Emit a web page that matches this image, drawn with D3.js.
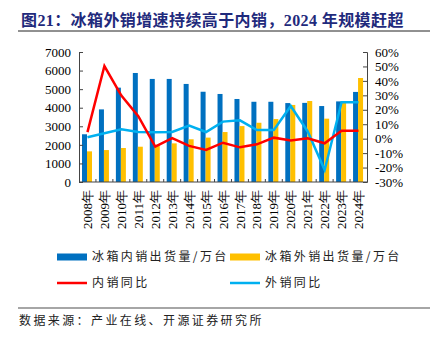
<!DOCTYPE html>
<html>
<head>
<meta charset="utf-8">
<script src="https://cdn.jsdelivr.net/npm/d3@7"></script>
<style>
  body { margin: 0; background: #fff; }
  svg { display: block; }
  .num { font-family: "Liberation Serif", "Times New Roman", serif; font-size: 13px; fill: #000; }
  .cjk { font-family: "Noto Sans CJK SC", sans-serif; }
</style>
</head>
<body>
<div id="chart"></div>
<script>
// years and series
var years = ["2008年","2009年","2010年","2011年","2012年","2013年","2014年","2015年","2016年",
             "2017年","2018年","2019年","2020年","2021年","2022年","2023年","2024年"];
var domestic = [2570, 3910, 5080, 5870, 5550, 5550, 5280, 4860, 4740, 4470, 4320, 4320, 4250, 4260, 4090, 4340, 4850];
var exportVol = [1650, 1720, 1830, 1900, 2000, 2080, 2300, 2390, 2690, 3010, 3190, 3390, 4150, 4360, 3410, 4290, 5600];
var domesticYoy = [4.5, 50.3, 29.8, 15.6, -5.5, 0.3, -5, -7.8, -2.8, -6, -3.9, 0.7, -1.2, 0.3, -3.2, 5.5, 5.5];
var exportYoy = [1, 3.7, 6.5, 4.6, 4.4, 4.6, 9, 4.6, 11.8, 12.7, 6, 6, 22.6, 5, -21.7, 25.2, 25.2];
var leftTicks = [0, 1000, 2000, 3000, 4000, 5000, 6000, 7000];
var rightTicks = [-30, -20, -10, 0, 10, 20, 30, 40, 50, 60];

var W = 443, H = 341;
var margin = {top: 52, right: 76, bottom: 159, left: 79};
var width = W - margin.left - margin.right,
    height = H - margin.top - margin.bottom;

var svg = d3.select("#chart").append("svg")
    .attr("width", W)
    .attr("height", H);

// title
svg.append("text")
    .attr("x", 21).attr("y", 26)
    .attr("fill", "#1f2a7c")
    .style("font-family", "\"Liberation Serif\", \"Noto Sans CJK SC\", serif")
    .style("font-weight", "bold")
    .style("font-size", "16px")
    .style("letter-spacing", "0.4px")
    .text("图21：冰箱外销增速持续高于内销，2024 年规模赶超");

svg.append("line")
    .attr("x1", 18).attr("x2", 430).attr("y1", 31).attr("y2", 31)
    .attr("stroke", "#222").attr("stroke-width", 1);

var g = svg.append("g")
    .attr("transform", "translate(" + margin.left + "," + margin.top + ")");

var x = d3.scaleBand().domain(years).range([0, width]);
var y = d3.scaleLinear().domain([0, 7000]).range([height, 0]);
var y2 = d3.scaleLinear().domain([-30, 60]).range([height, 0]);

var barW = 5;

// bars
g.selectAll(".bar-dom")
    .data(domestic)
    .enter().append("rect")
    .attr("class", "bar-dom")
    .attr("x", function(d, i) { return x(years[i]) + 3; })
    .attr("width", barW)
    .attr("y", function(d) { return y(d); })
    .attr("height", function(d) { return height - y(d); })
    .style("fill", "#0070c0");

g.selectAll(".bar-exp")
    .data(exportVol)
    .enter().append("rect")
    .attr("class", "bar-exp")
    .attr("x", function(d, i) { return x(years[i]) + 3 + barW; })
    .attr("width", barW)
    .attr("y", function(d) { return y(d); })
    .attr("height", function(d) { return height - y(d); })
    .style("fill", "#ffc000");

// yoy lines
var line = d3.line()
    .x(function(d, i) { return x(years[i]) + x.bandwidth() / 2; })
    .y(function(d) { return y2(d); });

g.append("path")
    .datum(exportYoy)
    .attr("d", line)
    .attr("fill", "none")
    .attr("stroke", "#00b0f0")
    .attr("stroke-width", 2.5);

g.append("path")
    .datum(domesticYoy)
    .attr("d", line)
    .attr("fill", "none")
    .attr("stroke", "#ff0000")
    .attr("stroke-width", 2.5);

// axes
var yAxis = d3.axisLeft(y).tickValues(leftTicks).tickFormat(d3.format("d"))
    .tickSize(-4).tickPadding(8);
var y2Axis = d3.axisRight(y2).tickValues(rightTicks)
    .tickFormat(function(d) { return d + "%"; }).tickSize(-4).tickPadding(8);

var ya = g.append("g").attr("class", "y-axis").call(yAxis);
var y2a = g.append("g").attr("class", "y2-axis")
    .attr("transform", "translate(" + width + ",0)").call(y2Axis);

[ya, y2a].forEach(function(a) {
    a.select(".domain").attr("stroke", "#444");
    a.selectAll(".tick line").attr("stroke", "#444");
    a.selectAll(".tick text").attr("class", "num").attr("fill", "#000").style("font-size", null);
    a.attr("font-size", null).attr("font-family", null);
});

// x axis: baseline, boundary ticks, rotated labels
var xa = g.append("g").attr("transform", "translate(0," + height + ")");
xa.append("line")
    .attr("x1", 0).attr("x2", width)
    .attr("stroke", "#444");
xa.selectAll(".xtick")
    .data(years.slice(1))
    .enter().append("line")
    .attr("x1", function(d) { return x(d); })
    .attr("x2", function(d) { return x(d); })
    .attr("y1", 0).attr("y2", -3)
    .attr("stroke", "#444");
xa.selectAll(".xlabel")
    .data(years)
    .enter().append("text")
    .attr("class", "num")
    .attr("transform", function(d) {
        return "translate(" + (x(d) + x.bandwidth() / 2) + ",8) rotate(-90)";
    })
    .attr("text-anchor", "end")
    .attr("dy", "0.35em")
    .text(function(d) { return d; });

// legend
var legend = svg.append("g").attr("class", "cjk")
    .style("font-size", "12px").style("letter-spacing", "2.4px");
var items = [
    {label: "冰箱内销出货量/万台", color: "#0070c0", type: "rect", x: 57, y: 257},
    {label: "冰箱外销出货量/万台", color: "#ffc000", type: "rect", x: 230, y: 257},
    {label: "内销同比", color: "#ff0000", type: "line", x: 57, y: 283},
    {label: "外销同比", color: "#00b0f0", type: "line", x: 230, y: 283}
];
items.forEach(function(it) {
    if (it.type === "rect") {
        legend.append("rect")
            .attr("x", it.x).attr("y", it.y - 3.5)
            .attr("width", 30).attr("height", 7)
            .attr("fill", it.color);
    } else {
        legend.append("line")
            .attr("x1", it.x).attr("x2", it.x + 30)
            .attr("y1", it.y).attr("y2", it.y)
            .attr("stroke", it.color).attr("stroke-width", 2.5);
    }
    legend.append("text")
        .attr("x", it.x + 35).attr("y", it.y)
        .attr("dy", "0.36em")
        .attr("fill", "#222")
        .text(it.label);
});

// source
svg.append("line")
    .attr("x1", 18).attr("x2", 430).attr("y1", 308).attr("y2", 308)
    .attr("stroke", "#888").attr("stroke-width", 1.5);
svg.append("text")
    .attr("class", "cjk")
    .attr("x", 19).attr("y", 321)
    .attr("dy", "0.36em")
    .attr("fill", "#222")
    .style("font-size", "12px")
    .style("letter-spacing", "2.4px")
    .text("数据来源：产业在线、开源证券研究所");
</script>
</body>
</html>
